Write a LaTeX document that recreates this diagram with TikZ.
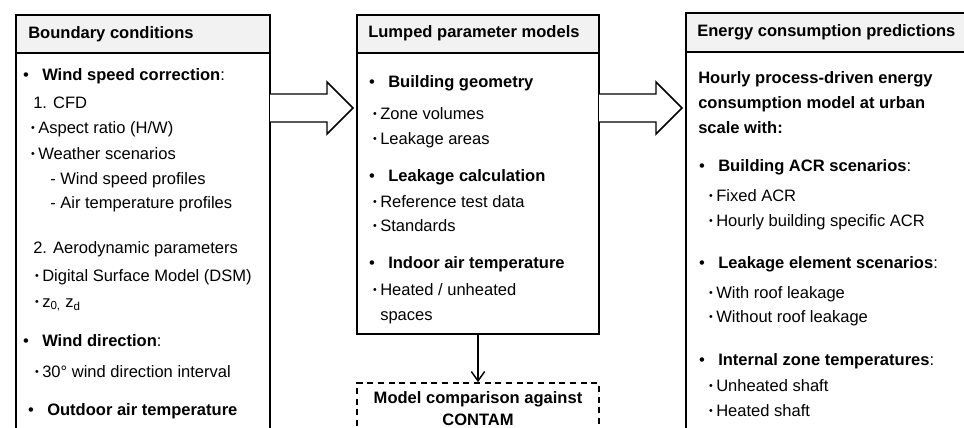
\documentclass[tikz,border=0pt]{standalone}
\usepackage{fontspec}
\setmainfont{Liberation Sans}
\usetikzlibrary{arrows.meta, positioning, fit}

\definecolor{headgray}{HTML}{F2F2F2}
\newcommand{\bigbul}{\llap{\textbullet\hspace{10pt}}}
\newcommand{\smallbul}{\llap{\raisebox{0.1em}{\fontsize{8}{8}\selectfont\textbullet}\hspace{2.5pt}}}

\begin{document}
\begin{tikzpicture}[
    x=0.75pt, y=-0.75pt,
    font=\fontsize{12.4}{15}\selectfont,
    % Define styles
    box/.style={rectangle, draw, line width=1.3pt, inner sep=0pt},
    header/.style={box, fill=headgray},
    dashbox/.style={box, dash pattern=on 4.5pt off 3.5pt},
    txt/.style={anchor=west, inner sep=0pt, text height=1.5ex, text depth=0.25ex},
    title/.style={txt, font=\fontsize{12.4}{15}\selectfont\bfseries},
    blockarrow/.style={line width=1.1pt, fill=white, line join=miter},
    arrow/.style={-{Straight Barb[length=7pt, width=10pt]}, line width=1.1pt}
  ]
  \clip (0,0) rectangle (964,428);

  % Boundary conditions
  \node[header, fit={(16,15) (270,53)}] (bchead) {};
  \node[box, fit={(16,53) (270,470)}] (bcbody) {};
  \node[title] (bctitle) at (28,34) {Boundary conditions};
  \node[txt] (bc1) at (42,76) {\bigbul\textbf{Wind speed correction}:};
  \node[txt] (bc2) at (33,104) {1. CFD};
  \node[txt] (bc3) at (38,129) {\smallbul Aspect ratio (H/W)};
  \node[txt] (bc4) at (38,155) {\smallbul Weather scenarios};
  \node[txt] (bc5) at (50,180) {- Wind speed profiles};
  \node[txt] (bc6) at (50,204) {- Air temperature profiles};
  \node[txt] (bc7) at (33,249) {2. Aerodynamic parameters};
  \node[txt] (bc8) at (42,277) {\smallbul Digital Surface Model (DSM)};
  \node[txt] (bc9) at (42,303) {\smallbul z\textsubscript{0,} z\textsubscript{d}};
  \node[txt] (bc10) at (42,342) {\bigbul\textbf{Wind direction}:};
  \node[txt] (bc11) at (42,373) {\smallbul 30° wind direction interval};
  \node[txt] (bc12) at (47,411) {\bigbul\textbf{Outdoor air temperature}};

  % Lumped parameter models
  \node[header, fit={(357,15) (599,53)}] (lpmhead) {};
  \node[box, fit={(357,53) (599,334)}] (lpmbody) {};
  \node[title] (lpmtitle) at (368,33) {Lumped parameter models};
  \node[txt] (lpm1) at (388,83) {\bigbul\textbf{Building geometry}};
  \node[txt] (lpm2) at (380,115) {\smallbul Zone volumes};
  \node[txt] (lpm3) at (380,140) {\smallbul Leakage areas};
  \node[txt] (lpm4) at (388,177) {\bigbul\textbf{Leakage calculation}};
  \node[txt] (lpm5) at (380,203) {\smallbul Reference test data};
  \node[txt] (lpm6) at (380,227) {\smallbul Standards};
  \node[txt] (lpm7) at (388,264) {\bigbul\textbf{Indoor air temperature}};
  \node[txt] (lpm8) at (380,291) {\smallbul Heated / unheated};
  \node[txt] (lpm9) at (380,316) {spaces};

  % Energy consumption predictions
  \node[header, fit={(686,13) (990,52)}] (ecphead) {};
  \node[box, fit={(686,52) (990,470)}] (ecpbody) {};
  \node[title] (ecptitle) at (697,32) {Energy consumption predictions};
  \node[title] (ecp1) at (698,79) {Hourly process-driven energy};
  \node[title] (ecp2) at (698,104) {consumption model at urban};
  \node[title] (ecp3) at (698,129) {scale with:};
  \node[txt] (ecp4) at (718,167) {\bigbul\textbf{Building ACR scenarios}:};
  \node[txt] (ecp5) at (716,197) {\smallbul Fixed ACR};
  \node[txt] (ecp6) at (716,222) {\smallbul Hourly building specific ACR};
  \node[txt] (ecp7) at (718,264) {\bigbul\textbf{Leakage element scenarios}:};
  \node[txt] (ecp8) at (716,294) {\smallbul With roof leakage};
  \node[txt] (ecp9) at (716,318) {\smallbul Without roof leakage};
  \node[txt] (ecp10) at (718,361) {\bigbul\textbf{Internal zone temperatures}:};
  \node[txt] (ecp11) at (716,387) {\smallbul Unheated shaft};
  \node[txt] (ecp12) at (716,412) {\smallbul Heated shaft};

  % Comparison
  \node[dashbox, fit={(357,383) (599,470)}] (cmp) {};
  \node[font=\fontsize{12.4}{16.5}\selectfont\bfseries, align=center, anchor=north] (cmptext) at (478,387) {Model comparison against\\CONTAM};

  % Block arrows
  \coordinate (arrA) at (270,108);
  \coordinate (arrB) at (599,108);
  \draw[blockarrow] (arrA) ++(0,-14) -- ++(57,0) -- ++(0,-12) -- ++(26,26) -- ++(-26,26) -- ++(0,-12) -- ++(-57,0);
  \draw[blockarrow] (arrB) ++(0,-14) -- ++(57,0) -- ++(0,-12) -- ++(26,26) -- ++(-26,26) -- ++(0,-12) -- ++(-57,0);

  \draw[arrow] (lpmbody) -- (cmp);

\end{tikzpicture}
\end{document}
